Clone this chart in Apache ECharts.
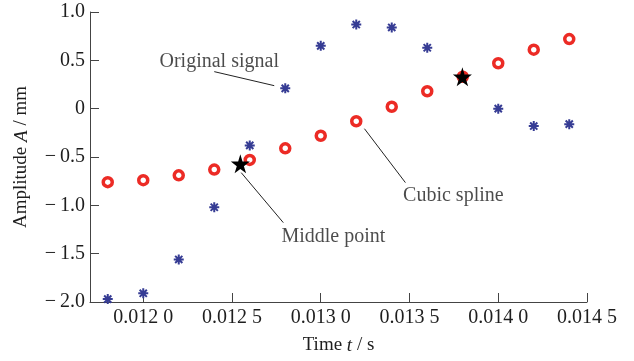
<!DOCTYPE html>
<html>
<head>
<meta charset="utf-8">
<script src="https://cdn.jsdelivr.net/npm/echarts@6/dist/echarts.min.js"></script>
<style>
  html, body { margin: 0; padding: 0; background: #fff; }
  #chart { width: 634px; height: 361px; }
</style>
</head>
<body>
<div id="chart"></div>
<script>
// sample times (s)
const timeOriginal = [0.0118, 0.0120, 0.0122, 0.0124, 0.0126, 0.0128, 0.0130, 0.0132, 0.0134, 0.0136, 0.0140, 0.0142, 0.0144];
const ampOriginal = [-1.97, -1.91, -1.56, -1.02, -0.38, 0.21, 0.65, 0.87, 0.84, 0.63, 0.0, -0.18, -0.16];

const timeSpline = [0.0118, 0.0120, 0.0122, 0.0124, 0.0126, 0.0128, 0.0130, 0.0132, 0.0134, 0.0136, 0.0138, 0.0140, 0.0142, 0.0144];
const ampSpline = [-0.76, -0.74, -0.69, -0.63, -0.53, -0.41, -0.28, -0.13, 0.02, 0.18, 0.33, 0.47, 0.61, 0.72];

const timeMiddle = [0.012547, 0.013798];
const ampMiddle = [-0.57, 0.33];

const xTicks = [0.0120, 0.0125, 0.0130, 0.0135, 0.0140, 0.0145];

// annotation text centre and leader line ends, in data units
const noteText = ['Original signal', 'Middle point', 'Cubic spline'];
const noteAt = [[0.012428, 0.486], [0.013071, -1.324], [0.013747, -0.90]];
const noteFrom = [[0.01240, 0.383], [0.012552, -0.662], [0.013246, -0.207]];
const noteTo = [[0.012738, 0.238], [0.012789, -1.179], [0.013477, -0.765]];

const FONT = 'Liberation Serif';
const FS = 20;      // tick labels, notes
const FS_NAME = 19; // axis names
const textColor = '#1e1e1e';
const axisColor = '#444';

const chart = echarts.init(document.getElementById('chart'));

const asterisk = 'path://M0,-5L0,5M-5,0L5,0M-3.6,-3.6L3.6,3.6M-3.6,3.6L3.6,-3.6';
const star = 'path://M50,0L61,35L98,35L68,57L79,91L50,70L21,91L32,57L2,35L39,35Z';

const fmtX = v => {
  const s = v.toFixed(4);
  return s.slice(0, 5) + ' ' + s.slice(5);
};
const fmtY = v => {
  if (Math.abs(v) < 1e-9) return '0';
  const s = Math.abs(v).toFixed(1);
  return v < 0 ? '\u2212\u2009' + s : s;
};

const nameRich = {
  n: { fontFamily: FONT, fontSize: FS_NAME, color: textColor },
  i: { fontFamily: FONT, fontSize: FS_NAME, color: textColor, fontStyle: 'italic' }
};

chart.setOption({
  animation: false,
  backgroundColor: '#fff',
  grid: { left: 90, right: 47, top: 12, bottom: 59 },
  xAxis: {
    type: 'value',
    min: 0.0117,
    max: 0.0145,
    name: '{n|Time }{i|t}{n| / s}',
    nameLocation: 'middle',
    nameGap: 34,
    nameTextStyle: { rich: nameRich },
    axisLine: { show: true, onZero: false, lineStyle: { color: axisColor, width: 1 } },
    axisTick: { show: true, inside: true, length: 9, customValues: xTicks, lineStyle: { color: axisColor } },
    axisLabel: {
      customValues: xTicks,
      formatter: fmtX,
      margin: 6,
      fontFamily: FONT,
      fontSize: FS,
      color: textColor
    },
    splitLine: { show: false }
  },
  yAxis: {
    type: 'value',
    min: -2,
    max: 1,
    interval: 0.5,
    name: '{n|Amplitude }{i|A}{n| / mm}',
    nameLocation: 'middle',
    nameGap: 59,
    nameTextStyle: { rich: nameRich },
    axisLine: { show: true, onZero: false, lineStyle: { color: axisColor, width: 1 } },
    axisTick: { show: true, inside: true, length: 9, lineStyle: { color: axisColor } },
    axisLabel: {
      formatter: fmtY,
      margin: 5,
      fontFamily: FONT,
      fontSize: FS,
      color: textColor
    },
    splitLine: { show: false }
  },
  series: [
    {
      name: 'Leaders',
      type: 'lines',
      coordinateSystem: 'cartesian2d',
      polyline: false,
      symbol: 'none',
      lineStyle: { color: '#222', width: 1, opacity: 1 },
      data: noteFrom.map((p, i) => ({ coords: [p, noteTo[i]] })),
      z: 1
    },
    {
      name: 'Original signal',
      type: 'scatter',
      symbol: asterisk,
      symbolSize: 10,
      itemStyle: { color: 'transparent', borderColor: '#363c94', borderWidth: 2, opacity: 1 },
      data: timeOriginal.map((t, i) => [t, ampOriginal[i]]),
      z: 2
    },
    {
      name: 'Cubic spline',
      type: 'scatter',
      symbol: 'circle',
      symbolSize: 9,
      itemStyle: { color: '#fff', borderColor: '#ec2b25', borderWidth: 3.5, opacity: 1 },
      data: timeSpline.map((t, i) => [t, ampSpline[i]]),
      z: 3
    },
    {
      name: 'Middle point',
      type: 'scatter',
      symbol: star,
      symbolSize: 19,
      itemStyle: { color: '#000', opacity: 1 },
      data: timeMiddle.map((t, i) => [t, ampMiddle[i]]),
      z: 4
    },
    {
      name: 'Notes',
      type: 'scatter',
      symbolSize: 0,
      silent: true,
      label: {
        show: true,
        position: 'inside',
        formatter: p => noteText[p.dataIndex],
        fontFamily: FONT,
        fontSize: FS,
        color: textColor
      },
      data: noteAt,
      z: 5
    }
  ]
});
</script>
</body>
</html>
